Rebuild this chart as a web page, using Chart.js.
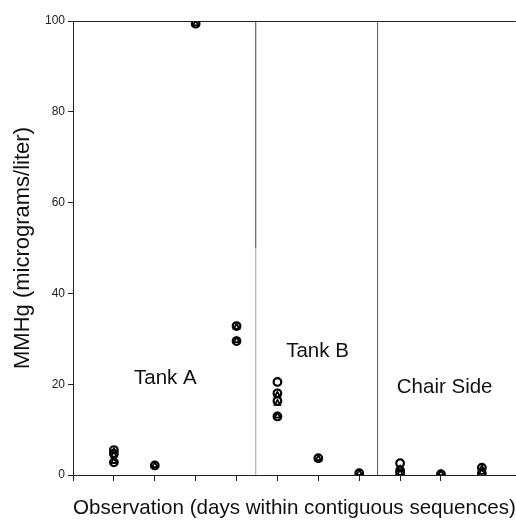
<!DOCTYPE html>
<html>
<head>
<meta charset="utf-8">
<script src="https://cdn.jsdelivr.net/npm/chart.js@4"></script>
<style>
    html, body { margin: 0; padding: 0; background: #fff; overflow: hidden; }
    #wrap { width: 522px; height: 521px; }
</style>
</head>
<body>
<div id="wrap"><canvas id="mercuryChart"></canvas></div>
<script>
// observations (x = day position, y = MMHg in micrograms/liter)
const circleX = [1, 1, 1, 2, 3, 4, 4, 5, 5, 5, 5, 6, 7, 8, 8, 8, 9, 10, 10];
const circleY = [5.5, 4.7, 2.8, 2.1, 99.4, 32.8, 29.5, 20.5, 18.0, 16.3, 12.9, 3.7, 0.4, 2.6, 1.0, 0.3, 0.2, 1.6, 0.4];
const triangleX = [1, 1, 1, 2, 3, 4, 4, 5, 5, 5, 6, 7, 8, 8, 9, 10, 10];
const triangleY = [5.2, 4.4, 3.0, 2.1, 99.4, 32.6, 29.6, 17.6, 15.8, 13.0, 3.6, 0.4, 1.3, 0.4, 0.3, 1.4, 0.6];
const groupBreaks = [4.47, 7.45];
const groupNames = ['Tank A', 'Tank B', 'Chair Side'];
const yTicks = [0, 20, 40, 60, 80, 100];

const FONT = "'Liberation Sans', Arial, sans-serif";
const INK = '#222';

function toPoints(xs, ys) {
    return xs.map((x, i) => ({ x: x, y: ys[i] }));
}

// group captions, placed in data units
const captionSpots = [
    { x: 2.26, y: 21.3 },
    { x: 5.98, y: 27.2 },
    { x: 9.09, y: 19.2 }
];

const captionPlugin = {
    id: 'captions',
    afterDatasetsDraw(chart) {
        const { ctx, scales } = chart;
        ctx.save();
        ctx.fillStyle = '#111';
        ctx.font = '20.5px ' + FONT;
        ctx.textAlign = 'center';
        ctx.textBaseline = 'middle';
        groupNames.forEach((name, i) => {
            const px = scales.x.getPixelForValue(captionSpots[i].x);
            const py = scales.y.getPixelForValue(captionSpots[i].y);
            ctx.fillText(name, px, py);
        });
        ctx.restore();
    }
};

const breakLine = (x, from, to, color) => ({
    type: 'line',
    data: [{ x: x, y: from }, { x: x, y: to }],
    borderColor: color,
    borderWidth: 1,
    pointRadius: 0,
    order: 5
});

const ctx = document.getElementById('mercuryChart').getContext('2d');
new Chart(ctx, {
    type: 'scatter',
    data: {
        datasets: [
            breakLine(groupBreaks[0], 50, 100, '#444'),
            breakLine(groupBreaks[0], 0, 50, '#a0a0a0'),
            breakLine(groupBreaks[1], 0, 100, '#555'),
            {
                label: 'circles',
                data: toPoints(circleX, circleY),
                pointStyle: 'circle',
                pointRadius: 3.8,
                borderWidth: 2.2,
                borderColor: '#000',
                backgroundColor: '#fff',
                order: 1
            },
            {
                label: 'triangles',
                data: toPoints(triangleX, triangleY),
                pointStyle: 'triangle',
                pointRadius: 3.2,
                borderWidth: 1.8,
                borderColor: '#000',
                backgroundColor: 'rgba(255,255,255,0)',
                order: 0
            }
        ]
    },
    options: {
        responsive: true,
        maintainAspectRatio: false,
        animation: false,
        layout: { padding: { top: 21, right: 0, left: 0, bottom: 0 } },
        plugins: {
            legend: { display: false },
            tooltip: { enabled: false }
        },
        scales: {
            x: {
                type: 'linear',
                min: 0,
                max: 10.83,
                afterBuildTicks: (scale) => {
                    scale.ticks = scale.ticks.filter(t => Number.isInteger(t.value));
                },
                afterFit: (scale) => { scale.height = 46; },
                ticks: { stepSize: 1, display: false },
                grid: { drawOnChartArea: false, tickLength: 6, color: INK },
                border: { color: INK, width: 1 },
                title: {
                    display: true,
                    text: 'Observation (days within contiguous sequences)',
                    color: '#111',
                    font: { family: FONT, size: 21 },
                    padding: { top: 0, bottom: 0 }
                }
            },
            y: {
                min: 0,
                max: 100,
                afterBuildTicks: (scale) => {
                    scale.ticks = yTicks.map(v => ({ value: v }));
                },
                afterFit: (scale) => { scale.width = 73; },
                ticks: { color: INK, font: { family: FONT, size: 12 }, padding: 3 },
                grid: {
                    drawOnChartArea: true,
                    color: (c) => (c.tick && c.tick.value === 100) ? INK : 'rgba(0,0,0,0)',
                    tickColor: INK,
                    tickLength: 5
                },
                border: { color: INK, width: 1 },
                title: {
                    display: true,
                    text: 'MMHg (micrograms/liter)',
                    color: '#111',
                    font: { family: FONT, size: 22 },
                    padding: { top: 10, bottom: 0 }
                }
            }
        }
    },
    plugins: [captionPlugin]
});
</script>
</body>
</html>
